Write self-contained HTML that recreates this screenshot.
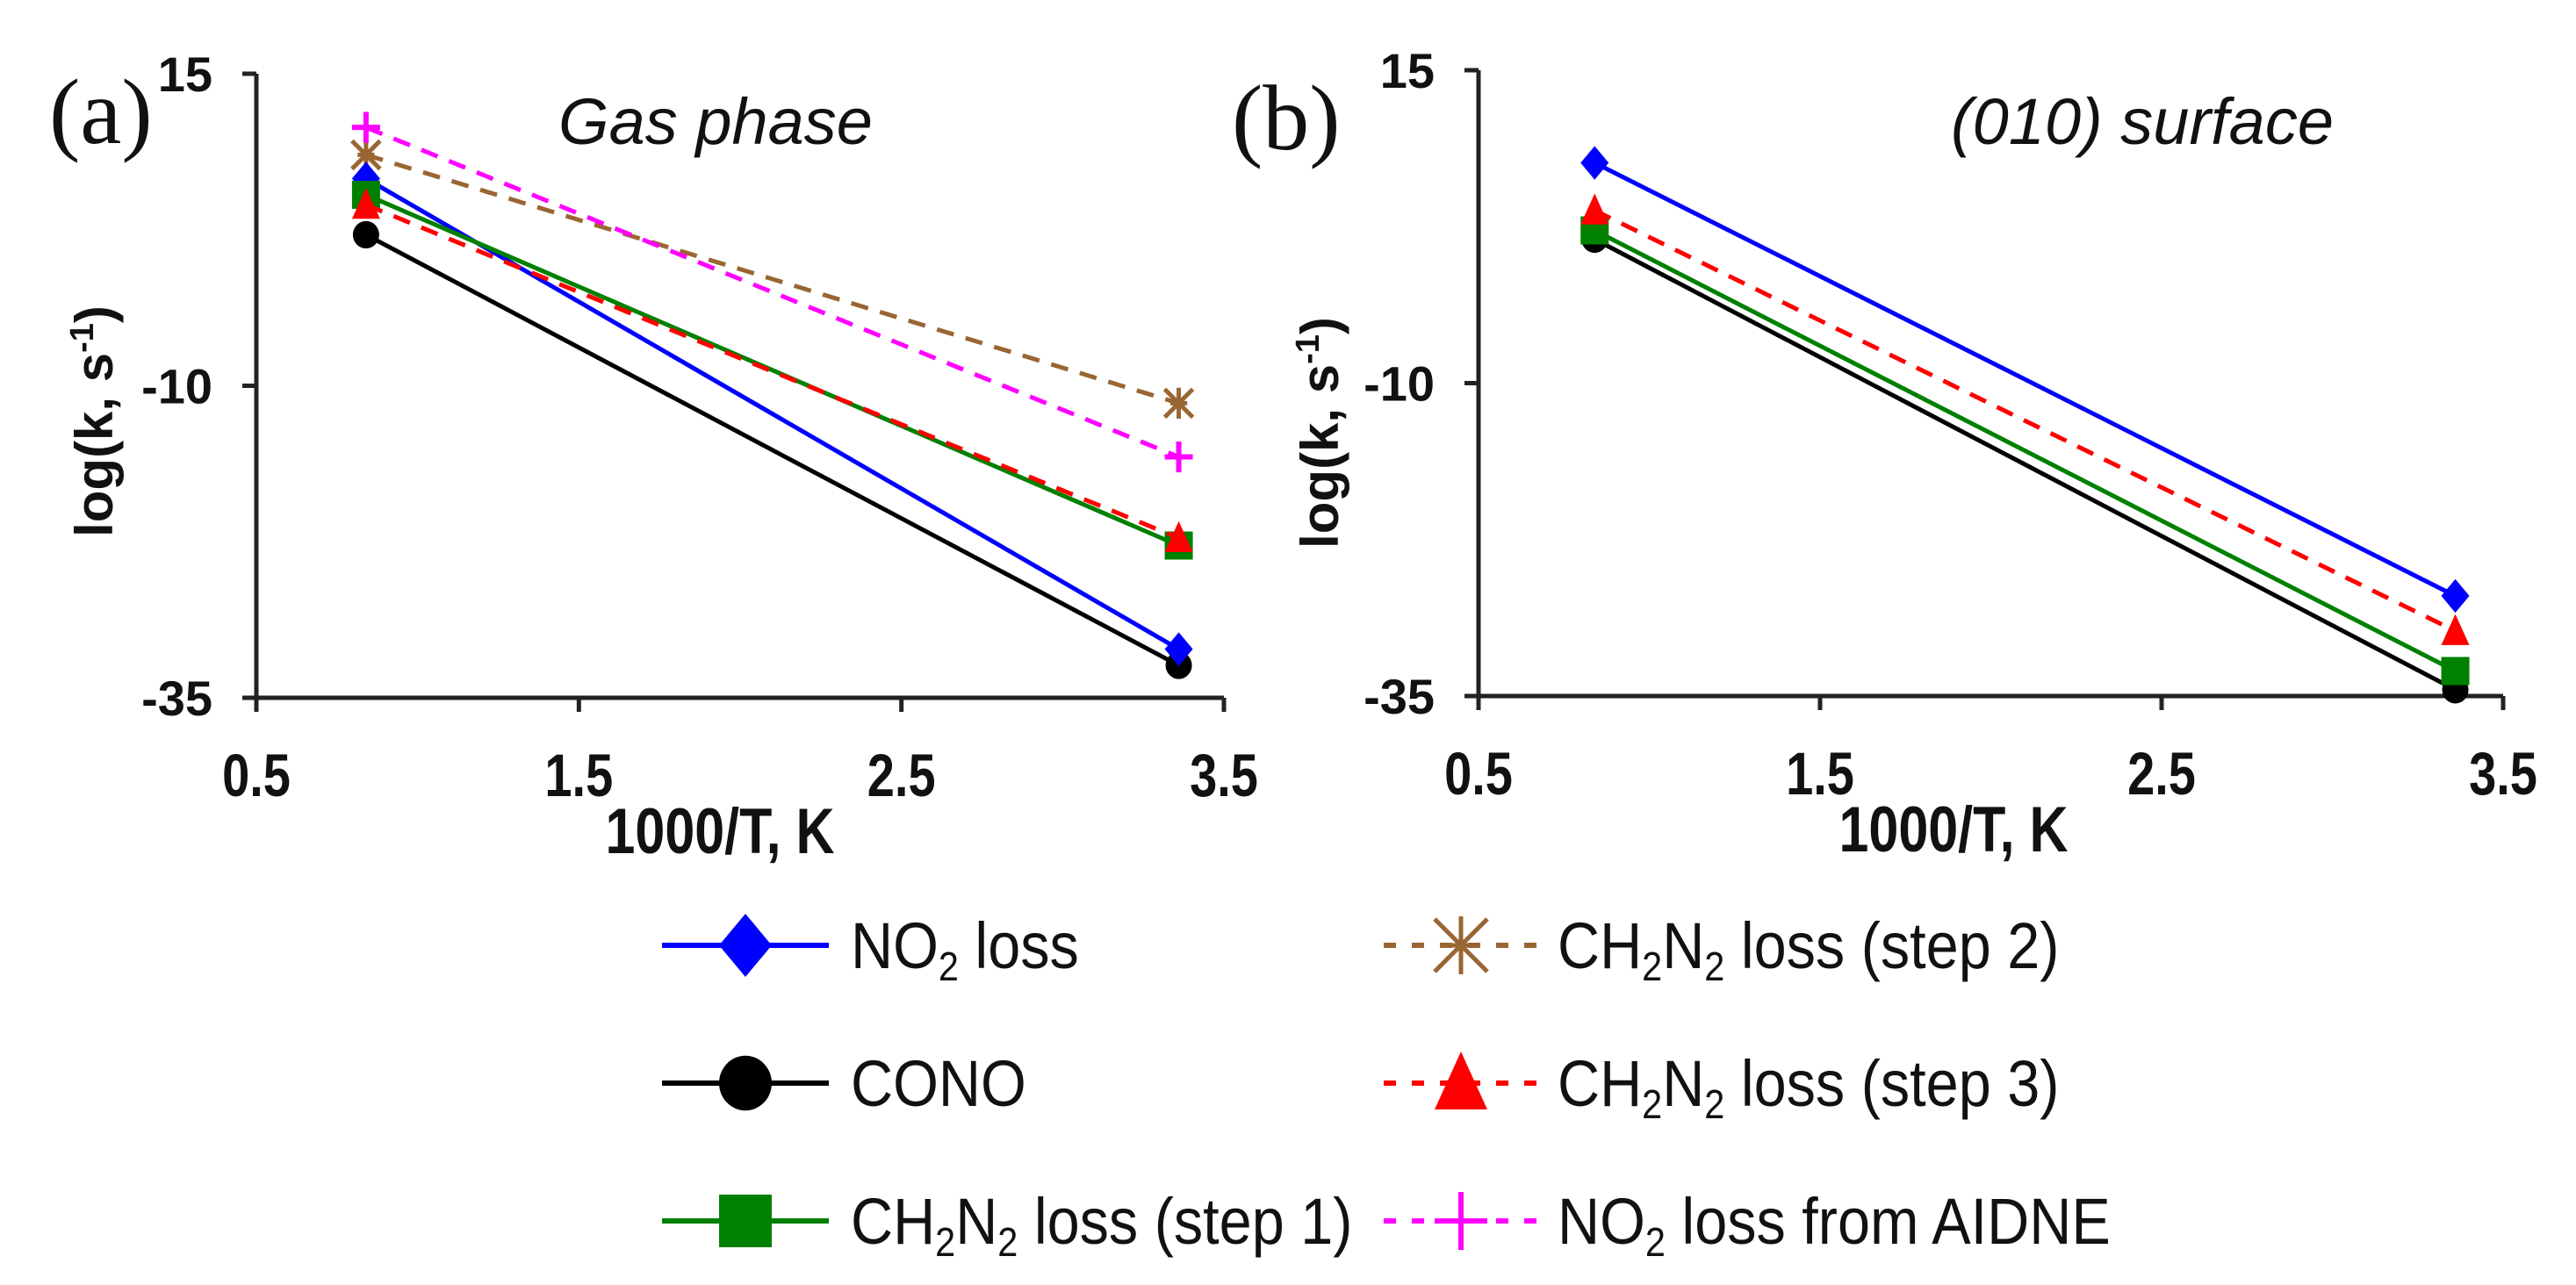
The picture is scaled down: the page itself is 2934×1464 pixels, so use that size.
<!DOCTYPE html>
<html><head><meta charset="utf-8">
<style>
html,body{margin:0;padding:0;background:#fff;}
svg{display:block;}
text{font-family:"Liberation Sans",Arial,sans-serif;}
</style></head>
<body>
<svg id="fig" width="2934" height="1464" viewBox="0 0 2934 1464" xmlns="http://www.w3.org/2000/svg">
<g id="panelA"></g>
<g id="panelB"></g>
<g id="legend"></g>
</svg>
<script>
const xValues = [0.84, 3.36];
const xTicks = [0.5, 1.5, 2.5, 3.5];
const xTickLabels = ["0.5", "1.5", "2.5", "3.5"];
const yTicks = [15, -10, -35];
const yTickLabels = ["15", "-10", "-35"];
const seriesNames = ["NO2 loss", "CONO", "CH2N2 loss (step 1)", "CH2N2 loss (step 2)", "CH2N2 loss (step 3)", "NO2 loss from AIDNE"];
const gasNO2 = [6.6, -31.1];
const gasCONO = [2.1, -32.4];
const gasStep1 = [5.3, -22.8];
const gasStep2 = [8.5, -11.4];
const gasStep3 = [4.5, -22.2];
const gasAIDNE = [10.7, -15.7];
const surfNO2 = [7.6, -27.0];
const surfCONO = [1.5, -34.5];
const surfStep1 = [2.2, -33.0];
const surfStep3 = [3.8, -29.8];

const NS = "http://www.w3.org/2000/svg";
function mk(tag, attrs, parent) {
  const e = document.createElementNS(NS, tag);
  for (const k in attrs) e.setAttribute(k, attrs[k]);
  parent.appendChild(e);
  return e;
}
const styles = {
  no2: {color: "#0000ff", dash: null, marker: "diamond"},
  cono: {color: "#000000", dash: null, marker: "circle"},
  step1: {color: "#008000", dash: null, marker: "square"},
  step2: {color: "#996633", dash: "20 14", marker: "star"},
  step3: {color: "#ff0000", dash: "20 14", marker: "triangle"},
  aidne: {color: "#ff00ff", dash: "20 14", marker: "plus"}
};
function drawMarker(g, type, cx, cy, s, color) {
  let m;
  if (type === "diamond") {
    m = mk("polygon", {points: `${cx},${cy - s * 0.6} ${cx + s * 0.5},${cy} ${cx},${cy + s * 0.6} ${cx - s * 0.5},${cy}`, fill: color}, g);
  } else if (type === "circle") {
    m = mk("ellipse", {cx: cx, cy: cy, rx: s * 0.5, ry: s * 0.52, fill: color}, g);
  } else if (type === "square") {
    m = mk("rect", {x: cx - s * 0.5, y: cy - s * 0.5, width: s, height: s, fill: color}, g);
  } else if (type === "triangle") {
    m = mk("polygon", {points: `${cx},${cy - s * 0.6} ${cx + s * 0.5},${cy + s * 0.5} ${cx - s * 0.5},${cy + s * 0.5}`, fill: color}, g);
  } else if (type === "star") {
    m = mk("path", {d: `M${cx - s * 0.5},${cy - s * 0.5}L${cx + s * 0.5},${cy + s * 0.5}M${cx + s * 0.5},${cy - s * 0.5}L${cx - s * 0.5},${cy + s * 0.5}M${cx},${cy - s * 0.55}L${cx},${cy + s * 0.55}M${cx - s * 0.3},${cy}L${cx + s * 0.3},${cy}`, stroke: color, "stroke-width": 5, fill: "none"}, g);
  } else {
    m = mk("path", {d: `M${cx - s * 0.5},${cy}L${cx + s * 0.5},${cy}M${cx},${cy - s * 0.55}L${cx},${cy + s * 0.55}`, stroke: color, "stroke-width": 6, fill: "none"}, g);
  }
  
  
}

function panel(g, cfg) {
  const xS = v => cfg.x0 + (v - 0.5) / 3 * (cfg.x1 - cfg.x0);
  const yS = v => cfg.y0 + (15 - v) / 50 * (cfg.y1 - cfg.y0);
  const ax = mk("path", {d: `M${cfg.x0},${cfg.y0}V${cfg.y1}H${cfg.x1}`, stroke: "#222", "stroke-width": 5, fill: "none"}, g);
  
  
  yTicks.forEach((t, i) => {
    const y = yS(t);
    const tk = mk("line", {x1: cfg.x0 - 16, x2: cfg.x0, y1: y, y2: y, stroke: "#222", "stroke-width": 5}, g);
    
    
    const tl = mk("text", {x: cfg.x0 - 50, y: y + 20, "text-anchor": "end", "font-size": 56, "font-weight": "bold", fill: "#111"}, g);
    tl.textContent = yTickLabels[i];
    
    
  });
  xTicks.forEach((t, i) => {
    const x = xS(t);
    const tk = mk("line", {x1: x, x2: x, y1: cfg.y1, y2: cfg.y1 + 16, stroke: "#222", "stroke-width": 5}, g);
    
    
    const tl = mk("text", {transform: `translate(${x},${cfg.y1 + 112}) scale(1,1.22)`, "text-anchor": "middle", "font-size": 56, "font-weight": "bold", fill: "#111"}, g);
    tl.textContent = xTickLabels[i];
    
    
  });
  const xt = mk("text", {transform: `translate(${cfg.xTitleX},${cfg.y1 + 177}) scale(1,1.2)`, "text-anchor": "middle", "font-size": 61, "font-weight": "bold", fill: "#111"}, g);
  xt.textContent = "1000/T, K";
  
  
  const yt = mk("text", {transform: `translate(${cfg.yTitleX},${cfg.yTitleY}) rotate(-90)`, "text-anchor": "middle", "font-size": 60, "font-weight": "bold", fill: "#111"}, g);
  yt.innerHTML = 'log(k, s<tspan dy="-22" font-size="38">-1</tspan><tspan dy="22">)</tspan>';
  
  
  const lab = mk("text", {x: cfg.labX, y: cfg.labY, "font-size": 106, style: "font-family:'Liberation Serif','Times New Roman',serif", fill: "#111"}, g);
  lab.textContent = cfg.label;
  
  
  const ti = mk("text", {x: cfg.titleX, y: 164, "text-anchor": "middle", "font-size": 74, "font-style": "italic", fill: "#111"}, g);
  ti.textContent = cfg.title;
  
  
  cfg.series.forEach(sr => {
    const st = styles[sr.key];
    const sg = mk("g", {}, g);
    
    
    const ln = mk("line", {x1: xS(xValues[0]), y1: yS(sr.vals[0]), x2: xS(xValues[1]), y2: yS(sr.vals[1]), stroke: st.color, "stroke-width": 5}, sg);
    if (st.dash) ln.setAttribute("stroke-dasharray", st.dash);
    
    
    xValues.forEach((xv, i) => drawMarker(sg, st.marker, xS(xv), yS(sr.vals[i]), sr.key === "cono" ? 30 : 32, st.color));
  });
}

panel(document.getElementById("panelA"), {
  x0: 292, x1: 1394, y0: 84, y1: 795, label: "(a)", labX: 56, labY: 163,
  title: "Gas phase", titleX: 815, xTitleX: 820, yTitleX: 128, yTitleY: 480,
  series: [{key: "step2", vals: gasStep2}, {key: "aidne", vals: gasAIDNE}, {key: "cono", vals: gasCONO}, {key: "no2", vals: gasNO2}, {key: "step1", vals: gasStep1}, {key: "step3", vals: gasStep3}]
});
panel(document.getElementById("panelB"), {
  x0: 1684, x1: 2851, y0: 80, y1: 793, label: "(b)", labX: 1403, labY: 170,
  title: "(010) surface", titleX: 2440, xTitleX: 2225, yTitleX: 1524, yTitleY: 493,
  series: [{key: "cono", vals: surfCONO}, {key: "step1", vals: surfStep1}, {key: "step3", vals: surfStep3}, {key: "no2", vals: surfNO2}]
});

const legendKeys = ["no2", "cono", "step1", "step2", "step3", "aidne"];
const legendLabels = ['NO<tspan dy="14" font-size="46">2</tspan><tspan dy="-14"> loss</tspan>', 'CONO',
  'CH<tspan dy="14" font-size="46">2</tspan><tspan dy="-14">N</tspan><tspan dy="14" font-size="46">2</tspan><tspan dy="-14"> loss (step 1)</tspan>',
  'CH<tspan dy="14" font-size="46">2</tspan><tspan dy="-14">N</tspan><tspan dy="14" font-size="46">2</tspan><tspan dy="-14"> loss (step 2)</tspan>',
  'CH<tspan dy="14" font-size="46">2</tspan><tspan dy="-14">N</tspan><tspan dy="14" font-size="46">2</tspan><tspan dy="-14"> loss (step 3)</tspan>',
  'NO<tspan dy="14" font-size="46">2</tspan><tspan dy="-14"> loss from AIDNE</tspan>'];
const lg = document.getElementById("legend");
const rowsY = [1077, 1234, 1391];
legendKeys.forEach((k, i) => {
  const col = Math.floor(i / 3), row = i % 3;
  const st = styles[k];
  const lx0 = col === 0 ? 754 : 1576, lx1 = col === 0 ? 944 : 1752, tx = col === 0 ? 969 : 1774;
  const y = rowsY[row];
  const eg = mk("g", {}, lg);
  
  
  const ln = mk("line", {x1: lx0, x2: lx1, y1: y, y2: y, stroke: st.color, "stroke-width": 6}, eg);
  if (st.dash) ln.setAttribute("stroke-dasharray", "14 18");
  
  
  drawMarker(eg, st.marker, (lx0 + lx1) / 2, y, 60, st.color);
  const t = mk("text", {transform: `translate(${tx},${y + 26}) scale(0.9,1)`, "font-size": 74, fill: "#111"}, eg);
  t.innerHTML = legendLabels[i];
  
  
});
</script>
</body></html>
